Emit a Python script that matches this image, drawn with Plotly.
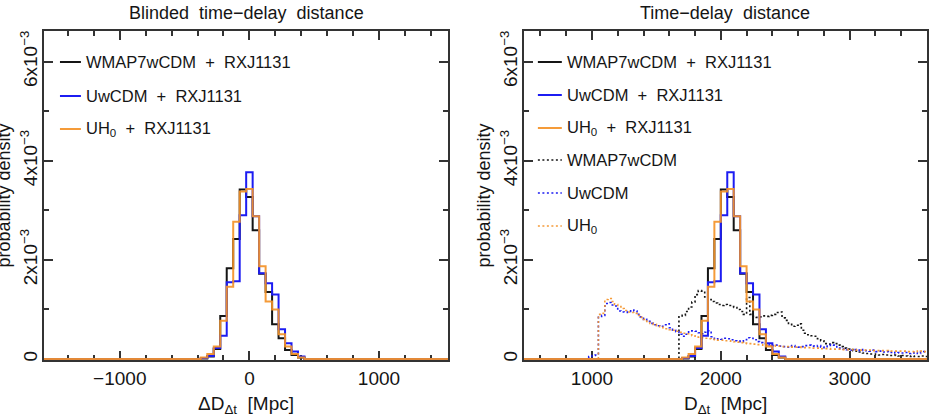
import plotly.graph_objects as go

# ---------------- DATA ----------------
# Left panel: blinded time-delay distance histograms (bin width 50 Mpc), values in units of 1e-3
blind_bin_start = -375
blind_bin_width = 50
wmap_rxj = [0.01, 0.05, 0.20, 0.87, 1.83, 2.42, 3.42, 3.27, 2.60, 1.72, 1.35, 0.70, 0.42, 0.18, 0.08, 0.03]
uwcdm_rxj = [0.02, 0.06, 0.22, 0.47, 1.55, 1.57, 2.90, 3.77, 2.88, 1.73, 1.53, 1.30, 0.60, 0.32, 0.15, 0.05]
uh0_rxj = [0.03, 0.10, 0.25, 0.77, 1.46, 2.77, 3.38, 3.43, 2.88, 1.87, 1.16, 1.00, 0.50, 0.25, 0.10, 0.03]

# Right panel: shift between blinded and unblinded distance [Mpc]
blinding_offset = 2075

# Prior-only histograms (bin width 25 Mpc), values in units of 1e-3
prior_bin_width = 25
wmap_prior_start = 1675
wmap_prior = [
    0.87, 0.88, 0.96, 1.05, 1.15, 1.30, 1.38, 1.37, 1.25, 1.20,
    1.16, 1.13, 1.10, 1.08, 1.10, 1.08, 1.06, 1.04, 1.00, 0.96,
    0.90, 1.24, 0.90, 0.86, 0.84, 0.85, 0.87, 0.86, 0.88, 0.90,
    0.94, 0.95, 0.83, 0.78, 0.70, 0.66, 0.68, 0.71, 0.58, 0.52,
    0.49, 0.47, 0.46, 0.41, 0.37, 0.31, 0.30, 0.33, 0.31, 0.28,
    0.25, 0.22, 0.20, 0.19, 0.17, 0.16, 0.14, 0.12, 0.11, 0.10,
    0.10, 0.09, 0.08, 0.09, 0.08, 0.07, 0.07, 0.08, 0.06, 0.07,
    0.06, 0.05, 0.06, 0.05, 0.05, 0.06, 0.05,
]
uwcdm_prior_start = 975
uwcdm_prior = [
    0.05, 0.07, 0.08, 0.86, 0.88, 1.12, 1.14, 1.09, 1.07, 0.97,
    0.95, 0.94, 0.96, 0.99, 0.97, 0.90, 0.85, 0.80, 0.76, 0.72,
    0.69, 0.67, 0.66, 0.69, 0.71, 0.63, 0.58, 0.55, 0.50, 0.46,
    0.50, 0.55, 0.57, 0.56, 0.53, 0.51, 0.54, 0.57, 0.45, 0.40,
    0.41, 0.40, 0.42, 0.41, 0.39, 0.37, 0.36, 0.35, 0.39, 0.43,
    0.42, 0.39, 0.35, 0.33, 0.31, 0.30, 0.28, 0.27, 0.28, 0.26,
    0.25, 0.24, 0.26, 0.27, 0.25, 0.24, 0.25, 0.27, 0.28, 0.26,
    0.25, 0.27, 0.24, 0.23, 0.26, 0.29, 0.28, 0.22, 0.21, 0.20,
    0.19, 0.18, 0.19, 0.18, 0.17, 0.19, 0.17, 0.16, 0.18, 0.15,
    0.16, 0.14, 0.15, 0.13, 0.14, 0.12, 0.13, 0.12, 0.13, 0.11,
    0.12, 0.13, 0.11, 0.14, 0.15,
]
uh0_prior_start = 1050
uh0_prior = [
    0.90, 0.92, 1.20, 1.22, 1.16, 1.10, 1.06, 1.02, 0.98, 0.95,
    0.94, 0.92, 0.88, 0.84, 0.80, 0.76, 0.72, 0.70, 0.67, 0.65,
    0.63, 0.61, 0.59, 0.58, 0.56, 0.54, 0.52, 0.51, 0.49, 0.47,
    0.46, 0.44, 0.43, 0.42, 0.41, 0.40, 0.39, 0.38, 0.38, 0.37,
    0.37, 0.36, 0.35, 0.34, 0.33, 0.32, 0.31, 0.31, 0.30, 0.29,
    0.29, 0.28, 0.28, 0.27, 0.27, 0.26, 0.26, 0.25, 0.25, 0.25,
    0.24, 0.24, 0.24, 0.23, 0.23, 0.23, 0.22, 0.22, 0.22, 0.21,
    0.21, 0.21, 0.20, 0.20, 0.20, 0.20, 0.19, 0.19, 0.19, 0.19,
    0.18, 0.18, 0.18, 0.18, 0.18, 0.17, 0.17, 0.17, 0.17, 0.17,
    0.16, 0.16, 0.16, 0.16, 0.16, 0.16, 0.15, 0.15, 0.16, 0.15,
    0.16, 0.15,
]

left_xrange = [-1585, 1533]
right_xrange = [472, 3600]
y_max = 6.62  # in 1e-3
left_xticks = [-1000, 0, 1000]
right_xticks = [1000, 2000, 3000]
y_ticks = [0, 2, 4, 6]
y_ticktext = ["0", "2x10<sup>\u22123</sup>", "4x10<sup>\u22123</sup>", "6x10<sup>\u22123</sup>"]

# ---------------- STYLE ----------------
FONT = "Liberation Sans, Arial, Helvetica, sans-serif"
BLACK = "#151515"
BLUE = "#1c1cf2"
ORANGE = "rgba(244,146,40,0.92)"
AXC = "#333333"
DOT = "2px,2.5px"


def step_xy(start, width, vals, lo, hi, drop_end=True, shift=0):
    xs = [lo]
    ys = [0.0]
    for i, v in enumerate(vals):
        xs.append(start + shift + i * width)
        ys.append(v * 1e-3)
    if drop_end:
        xs.append(start + shift + len(vals) * width)
        ys.append(0.0)
        xs.append(hi)
        ys.append(0.0)
    else:
        xs.append(hi)
        ys.append(vals[-1] * 1e-3)
    return xs, ys


fig = go.Figure()


def add_hist(xs, ys, color, dash, width, xa, ya):
    fig.add_trace(go.Scatter(x=xs, y=ys, mode="lines", line=dict(color=color, width=width, dash=dash, shape="hv"),
                             xaxis=xa, yaxis=ya, showlegend=False, hoverinfo="skip"))


# Left panel
for vals, col in [(wmap_rxj, BLACK), (uwcdm_rxj, BLUE), (uh0_rxj, ORANGE)]:
    xs, ys = step_xy(blind_bin_start, blind_bin_width, vals, left_xrange[0] - 50, left_xrange[1] + 50)
    add_hist(xs, ys, col, "solid", 2, "x", "y")

# Right panel: priors (dotted)
for start, vals, col in [(wmap_prior_start, wmap_prior, BLACK), (uwcdm_prior_start, uwcdm_prior, BLUE),
                         (uh0_prior_start, uh0_prior, ORANGE)]:
    xs, ys = step_xy(start, prior_bin_width, vals, right_xrange[0] - 50, right_xrange[1] + 50, drop_end=False)
    add_hist(xs, ys, col, DOT, 1.6, "x2", "y2")

# Right panel: posteriors (solid)
for vals, col in [(wmap_rxj, BLACK), (uwcdm_rxj, BLUE), (uh0_rxj, ORANGE)]:
    xs, ys = step_xy(blind_bin_start, blind_bin_width, vals, right_xrange[0] - 50, right_xrange[1] + 50,
                     shift=blinding_offset)
    add_hist(xs, ys, col, "solid", 2, "x2", "y2")

W, H = 936, 414
ML, MR, MT, MB = 44, 7, 31, 54
PW = W - ML - MR
PH = H - MT - MB


def px2x(px):
    return (px - ML) / PW


def py2y(py):
    return (H - MB - py) / PH


dom_left = [0, px2x(449)]
dom_right = [px2x(525), 1]

axis_common = dict(showline=True, linecolor=AXC, linewidth=2, mirror="ticks", ticks="inside",
                   ticklen=9, tickwidth=1.5, tickcolor=AXC, showgrid=False, zeroline=False,
                   tickfont=dict(family=FONT, size=19, color=BLACK), layer="below traces")

xmin = dict(dtick=200, tick0=0, ticklen=5, tickwidth=1.5, tickcolor=AXC, ticks="inside", showgrid=False)
ymin = dict(dtick=1e-3, tick0=0, ticklen=5, tickwidth=1.5, tickcolor=AXC, ticks="inside", showgrid=False)

yvals = [v * 1e-3 for v in y_ticks]
yrange = [-0.02e-3, y_max * 1e-3]

fig.update_layout(
    width=W, height=H,
    margin=dict(l=ML, r=MR, t=MT, b=MB),
    paper_bgcolor="white", plot_bgcolor="white",
    font=dict(family=FONT, size=18, color=BLACK),
    xaxis=dict(domain=dom_left, range=left_xrange, tickvals=left_xticks, minor=xmin, anchor="y", **axis_common),
    yaxis=dict(domain=[0, 1], range=yrange, tickvals=yvals, ticktext=y_ticktext, tickangle=-90,
               minor=ymin, anchor="x", ticklabelstandoff=-3, **axis_common),
    xaxis2=dict(domain=dom_right, range=right_xrange, tickvals=right_xticks, minor=xmin, anchor="y2", **axis_common),
    yaxis2=dict(domain=[0, 1], range=yrange, tickvals=yvals, ticktext=y_ticktext, tickangle=-90,
                minor=ymin, anchor="x2", ticklabelstandoff=-3, **axis_common),
)

ann = []
shapes = []
# Titles
ann.append(dict(text="Blinded  time\u2212delay  distance", x=sum(dom_left) / 2, y=py2y(13), xref="paper",
                yref="paper", showarrow=False, font=dict(size=18), xanchor="center", yanchor="middle"))
ann.append(dict(text="Time\u2212delay  distance", x=sum(dom_right) / 2, y=py2y(13), xref="paper", yref="paper",
                showarrow=False, font=dict(size=18), xanchor="center", yanchor="middle"))
# X axis titles
ann.append(dict(text="\u0394D<sub>\u0394t</sub>  [Mpc]", x=sum(dom_left) / 2, y=py2y(405), xref="paper",
                yref="paper", showarrow=False, font=dict(size=19), xanchor="center", yanchor="middle"))
ann.append(dict(text="D<sub>\u0394t</sub>  [Mpc]", x=sum(dom_right) / 2, y=py2y(405), xref="paper", yref="paper",
                showarrow=False, font=dict(size=19), xanchor="center", yanchor="middle"))
# Y axis titles
for pxc in [3, 484]:
    ann.append(dict(text="probability density", x=px2x(pxc), y=0.5, xref="paper", yref="paper", textangle=-90,
                    showarrow=False, font=dict(size=18), xanchor="center", yanchor="middle"))

# Legends
left_entries = [("WMAP7wCDM  +  RXJ1131", BLACK, "solid"), ("UwCDM  +  RXJ1131", BLUE, "solid"),
                ("UH<sub>0</sub>  +  RXJ1131", ORANGE, "solid")]
right_entries = left_entries + [("WMAP7wCDM", BLACK, DOT), ("UwCDM", BLUE, DOT), ("UH<sub>0</sub>", ORANGE, DOT)]
left_y = [62, 96, 129]
right_y = [62, 95, 128, 160, 193, 226]


def add_legend(entries, ys, x0, x1, xt):
    for (txt, col, dash), py in zip(entries, ys):
        shapes.append(dict(type="line", xref="paper", yref="paper", x0=px2x(x0), x1=px2x(x1), y0=py2y(py),
                           y1=py2y(py), line=dict(color=col, width=2 if dash == "solid" else 1.6, dash=dash)))
        ann.append(dict(text=txt, x=px2x(xt), y=py2y(py), xref="paper", yref="paper", showarrow=False,
                        font=dict(size=16.5), xanchor="left", yanchor="middle"))


add_legend(left_entries, left_y, 60, 81, 84)
add_legend(right_entries, right_y, 539, 563, 566)

fig.update_layout(annotations=ann, shapes=shapes)
fig.write_html("out.html")
